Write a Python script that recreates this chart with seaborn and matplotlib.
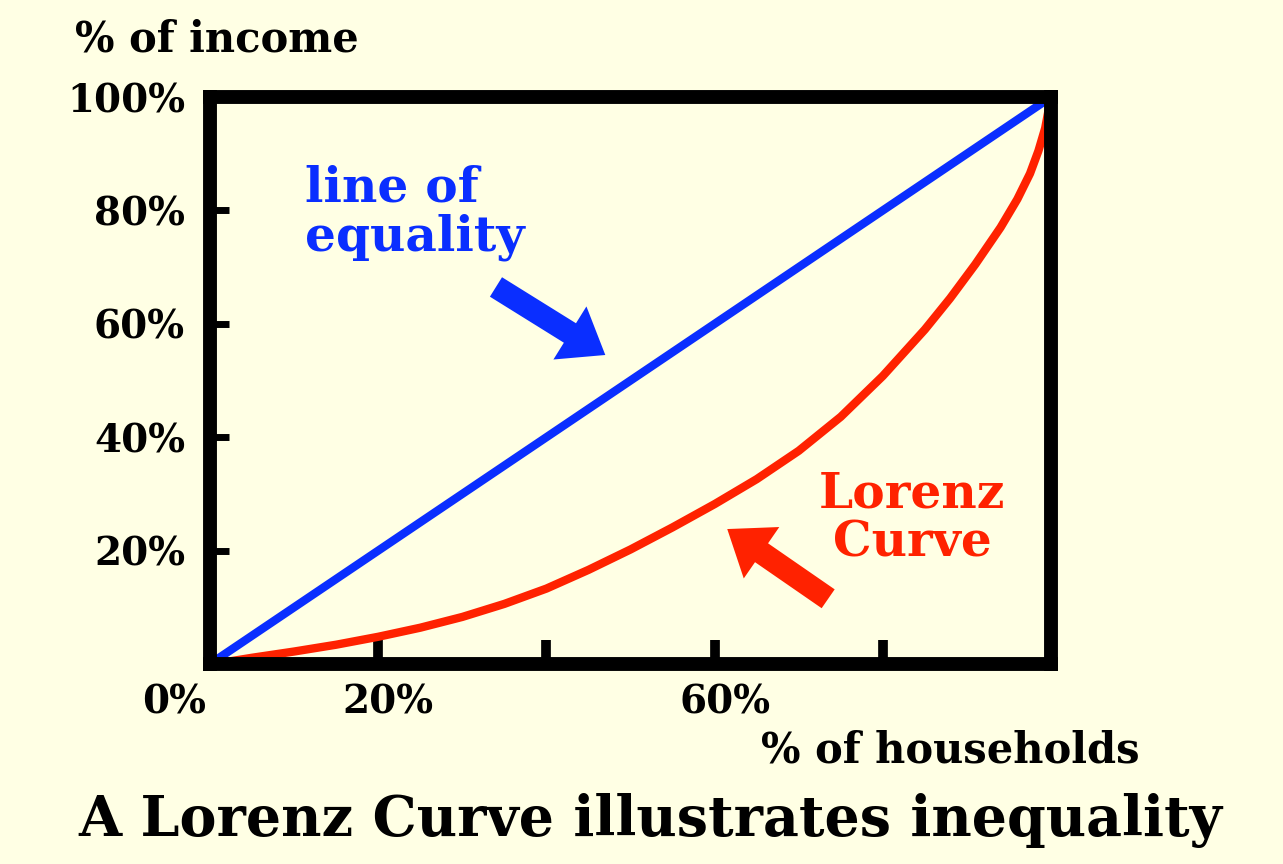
"""
plot.py — Lorenz curve vs. line of equality
"""

import matplotlib
matplotlib.use("Agg")
import matplotlib.pyplot as plt
import matplotlib.transforms as mtransforms
import pandas as pd
import seaborn as sns

# ─── Data ─────────────────────────────────────────────────────────────────────
households_pct = [0, 2.5, 5, 10, 15, 20, 25, 30, 35, 40, 45, 50, 55, 60, 65,
                  70, 75, 80, 85, 88, 91, 94, 96, 97.5, 98.5, 99.3, 100]
income_pct     = [0, 0.5, 1.1, 2.2, 3.4, 4.8, 6.4, 8.3, 10.6, 13.3, 16.6, 20.2,
                  24.1, 28.2, 32.6, 37.6, 43.6, 50.8, 59, 64.5, 70.5, 77, 82,
                  86.5, 90.5, 94.5, 100]
equality_x     = [0, 100]
equality_y     = [0, 100]

x_ticks        = [0, 20, 40, 60, 80]
x_tick_labels  = ["0%", "20%", "", "60%", ""]
y_ticks        = [20, 40, 60, 80, 100]
y_tick_labels  = ["20%", "40%", "60%", "80%", "100%"]

BG    = "#FFFFE4"
BLUE  = "#0A2EFF"
RED   = "#FF2200"
FONT  = "DejaVu Serif"

# ─── Figure ───────────────────────────────────────────────────────────────────
sns.set_style("ticks")
plt.rcParams["font.family"] = [FONT]
plt.rcParams["font.weight"] = "bold"
plt.rcParams["text.color"] = "black"

fig = plt.figure(figsize=(12.83, 8.64), dpi=100, facecolor=BG)
ax = fig.add_axes([0.1637, 0.2315, 0.8192 - 0.1637, 0.8877 - 0.2315])
ax.set_facecolor(BG)

lorenz = pd.DataFrame({"households": households_pct, "income": income_pct})
equal = pd.DataFrame({"households": equality_x, "income": equality_y})

sns.lineplot(data=equal, x="households", y="income", color=BLUE,
             linewidth=6, ax=ax, solid_capstyle="butt")
sns.lineplot(data=lorenz, x="households", y="income", color=RED,
             linewidth=6, ax=ax, solid_capstyle="butt", solid_joinstyle="round")

ax.set_xlim(0, 100)
ax.set_ylim(0, 100)
ax.set_xlabel("")
ax.set_ylabel("")

for s in ax.spines.values():
    s.set_visible(True)
    s.set_linewidth(10)
    s.set_color("black")
    s.set_zorder(5)

ax.set_xticks(x_ticks, x_tick_labels)
ax.set_yticks(y_ticks, y_tick_labels)
ax.tick_params(axis="x", direction="in", length=17, width=7, pad=14,
               labelsize=28, colors="black")
ax.tick_params(axis="y", direction="in", length=14, width=5, pad=18,
               labelsize=28, colors="black")

# nudge x labels like in the original
for lbl, txt in zip(ax.get_xticklabels(), x_tick_labels):
    dx = -36 if txt == "0%" else 10
    lbl.set_transform(lbl.get_transform() +
                      mtransforms.ScaledTranslation(dx / 100, 0, fig.dpi_scale_trans))

# ─── Annotations ──────────────────────────────────────────────────────────────
ax.text(11.3, 73, "line of\nequality", color=BLUE, fontsize=35,
        fontweight="bold", ha="left", va="baseline", linespacing=1.05)
ax.text(83.5, 19, "Lorenz\nCurve", color=RED, fontsize=35,
        fontweight="bold", ha="center", va="baseline", linespacing=1.05)

arrow = "simple,head_length=1.0,head_width=1.5,tail_width=0.55"
ax.annotate("", xy=(47, 54.5), xytext=(34, 66.5),
            arrowprops=dict(arrowstyle=arrow, mutation_scale=30, color=BLUE,
                            shrinkA=0, shrinkB=0, lw=0))
ax.annotate("", xy=(61.5, 23.8), xytext=(73.5, 11.5),
            arrowprops=dict(arrowstyle=arrow, mutation_scale=30, color=RED,
                            shrinkA=0, shrinkB=0, lw=0))

fig.text(0.0585, 0.94, "% of income", fontsize=30, fontweight="bold",
         ha="left", va="baseline", color="black")
fig.text(0.8885, 0.118, "% of households", fontsize=30, fontweight="bold",
         ha="right", va="baseline", color="black")
fig.text(0.507, 0.032, "A Lorenz Curve illustrates inequality", fontsize=40,
         fontweight="bold", ha="center", va="baseline", color="black")

fig.savefig("out.png", dpi=100, facecolor=BG)
